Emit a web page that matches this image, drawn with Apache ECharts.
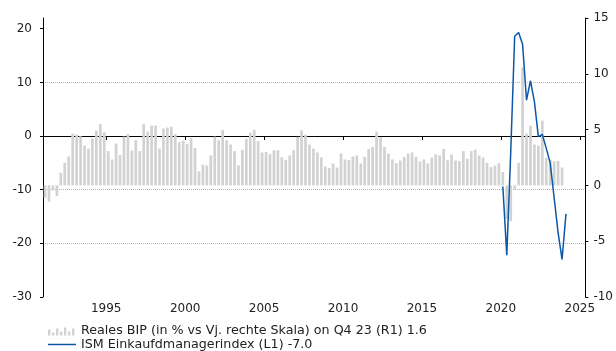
<!DOCTYPE html>
<html>
<head>
<meta charset="utf-8">
<script src="https://cdn.jsdelivr.net/npm/echarts@6/dist/echarts.min.js"></script>
<style>html,body{margin:0;padding:0;background:#fff;}#c{width:616px;height:351px;}</style>
</head>
<body>
<div id="c"></div>
<script>
// Quarterly GDP y/y (right scale), 1991 Q1 .. 2023 Q4
var startYear = 1991;
var gdpYoY = [
  -1.1, -1.45, -0.45, -0.95,
  1.13, 2.02, 2.6, 4.64,
  4.55, 4.4, 3.57, 3.3,
  4.2, 4.9, 5.5, 4.76,
  3.07, 2.32, 3.75, 2.74,
  4.37, 4.6, 3.13, 4.05,
  3.07, 5.5, 4.82, 5.36,
  5.36, 3.3, 5.09, 5.18,
  5.27, 4.6, 3.87, 4.0,
  3.7, 4.23, 3.36, 1.25,
  1.85, 1.79, 2.68, 4.37,
  4.05, 4.97, 4.05, 3.66,
  3.07, 1.79, 3.18, 4.17,
  4.73, 4.97, 3.96, 2.95,
  3.0, 2.8, 3.15, 3.15,
  2.53, 2.29, 2.68, 3.15,
  4.35, 4.94, 4.55, 3.66,
  3.3, 2.95, 2.5, 1.7,
  1.55, 1.96, 1.6, 2.86,
  2.32, 2.26, 2.59, 2.68,
  1.96, 2.56, 3.27, 3.45,
  4.82, 4.32, 3.45, 2.86,
  2.32, 1.99, 2.23, 2.56,
  2.86, 2.95, 2.56, 2.14,
  2.32, 1.96, 2.5, 2.77,
  2.68, 3.27, 2.26, 2.77,
  2.23, 2.17, 3.07, 2.38,
  3.07, 3.21, 2.68, 2.5,
  2.02, 1.64, 1.76, 1.99,
  1.2, -3.0, -3.2, -0.4,
  2.02, 10.57, 4.64, 5.36,
  3.66, 3.57, 5.8, 2.47,
  2.3, 2.15, 2.2, 1.6
];
// ISM index (left scale), quarterly 2020 Q1 .. 2024 Q1
var ismStartYear = 2020;
var ismValues = [-9.4, -22.2, -3.0, 18.6, 19.3, 17.1, 6.7, 10.3, 6.4, -0.1, 0.3, -2.3, -5.0, -11.5, -18.0, -23.0, -14.5];
var xTickYears = [1995, 2000, 2005, 2010, 2015, 2020, 2025];
var leftTicks = [-30, -20, -10, 0, 10, 20];
var gdpName = 'Reales BIP (in % vs Vj. rechte Skala) on Q4 23 (R1) 1.6';
var ismName = 'ISM Einkaufdmanagerindex (L1) -7.0';

function quarterPos(y0, i) { return y0 + i * 0.25 + 0.125; }
var barData = gdpYoY.map(function (v, i) { return [quarterPos(startYear, i), v]; });
var lineData = ismValues.map(function (v, i) { return [quarterPos(ismStartYear, i), v]; });

var font = 'DejaVu Sans';
var txt = '#222';
var chart = echarts.init(document.getElementById('c'), null, {renderer: 'canvas'});
chart.setOption({
  animation: false,
  backgroundColor: '#fff',
  textStyle: {fontFamily: font},
  grid: {left: 43, right: 27, top: 18, bottom: 54},
  legend: {
    orient: 'vertical', left: 48, top: 324, height: 60, padding: 0,
    itemWidth: 28, itemHeight: 10, itemGap: 1,
    textStyle: {fontFamily: font, fontSize: 12.7, color: txt, lineHeight: 13},
    data: [
      {name: gdpName, icon: 'path://M0,4H2.4V10H0Z M4,7H6.4V10H4Z M8,3H10.4V10H8Z M12,6H14.4V10H12Z M16,2H18.4V10H16Z M20,6H22.4V10H20Z M24,3H26.4V10H24Z M27.99,9.99H28V10H27.99Z M0,0H0.01V0.01H0Z'},
      {name: ismName, icon: 'path://M0,0H0.01V0.01H0Z M0,4.3H28V5.7H0Z M27.99,9.99H28V10H27.99Z'}
    ]
  },
  xAxis: {
    type: 'value', min: 1990.995, max: 2025.355,
    axisLine: {show: true, lineStyle: {color: '#000', width: 1}},
    axisTick: {show: true, length: 4, lineStyle: {color: '#000'}, customValues: xTickYears},
    axisLabel: {customValues: xTickYears, color: txt, fontSize: 12, fontFamily: font, margin: 6,
      formatter: function (v) { return String(Math.round(v)); }},
    splitLine: {show: false}
  },
  yAxis: [
    {
      type: 'value', min: -30, max: 22, interval: 10, position: 'left',
      axisLine: {show: true, lineStyle: {color: '#000', width: 1}},
      axisTick: {show: true, length: 3, lineStyle: {color: '#000'}, customValues: leftTicks},
      axisLabel: {customValues: leftTicks, color: txt, fontSize: 12, fontFamily: font, margin: 11},
      splitLine: {show: true, showMinLine: false, showMaxLine: false, lineStyle: {type: 'dotted', color: '#b5b5b5', width: 1}}
    },
    {
      type: 'value', min: -10, max: 15, interval: 5, position: 'right',
      axisLine: {show: true, lineStyle: {color: '#000', width: 1}},
      axisTick: {show: true, length: 3, lineStyle: {color: '#000'}},
      axisLabel: {color: txt, fontSize: 12, fontFamily: font, margin: 8},
      splitLine: {show: false}
    }
  ],
  series: [
    {
      name: gdpName, type: 'bar', yAxisIndex: 1, data: barData, barWidth: 2.7,
      itemStyle: {color: '#d2d2d2'}, z: 2
    },
    {
      name: ismName, type: 'line', yAxisIndex: 0, data: lineData, symbol: 'none', showSymbol: false,
      lineStyle: {color: '#0b57a4', width: 1.5}, itemStyle: {color: '#0b57a4'}, z: 3
    }
  ]
});
</script>
</body>
</html>
